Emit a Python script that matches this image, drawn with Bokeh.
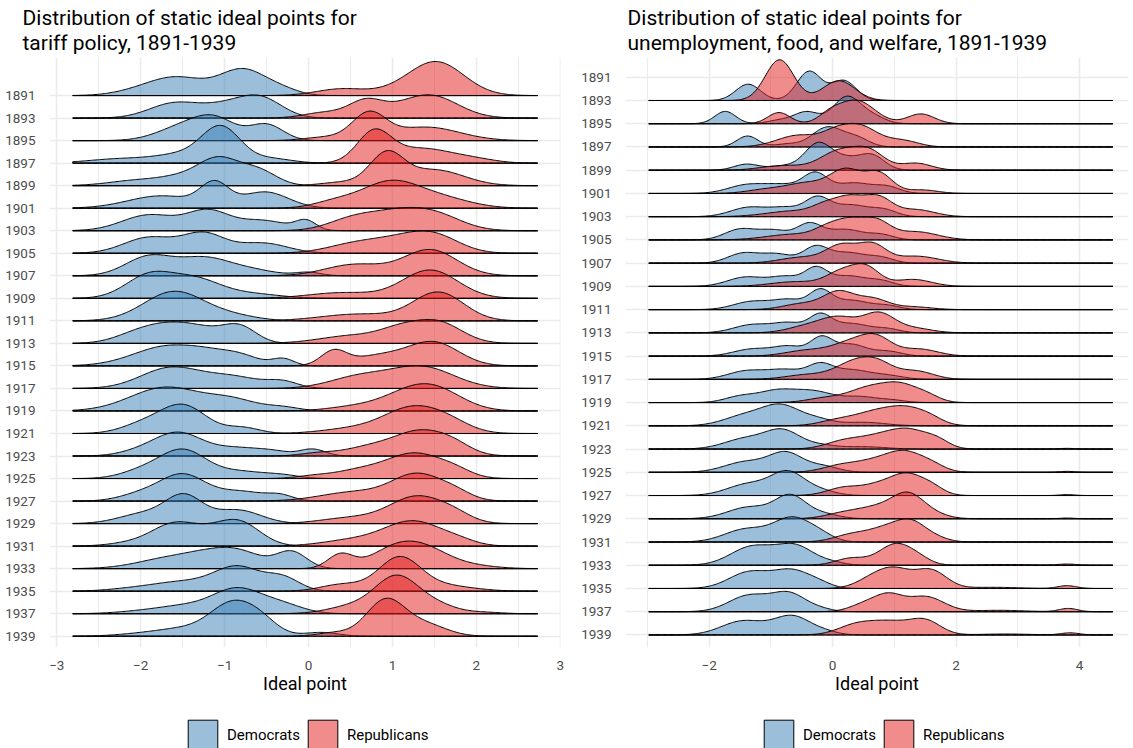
import numpy as np
from bokeh.plotting import figure
from bokeh.layouts import row, column
from bokeh.models import (FixedTicker, Legend, LegendItem, Title, Range1d,
                          ColumnDataSource)
from bokeh.embed import file_html
from bokeh.resources import INLINE

# ---------------------------------------------------------------- data
YEARS = list(range(1891, 1940, 2))          # 25 Congresses (y axis labels)
PARTIES = ["Democrats", "Republicans"]
PARTY_COLORS = ["#377EB8", "#E41A1C"]

TARIFF_TITLE = "Distribution of static ideal points for\ntariff policy, 1891-1939"
WELFARE_TITLE = "Distribution of static ideal points for\nunemployment, food, and welfare, 1891-1939"
X_LABEL = "Ideal point"

TARIFF_XTICKS = [-3, -2, -1, 0, 1, 2, 3]
WELFARE_XTICKS = [-2, 0, 2, 4]

# range of the ideal points in each panel (density support)
TARIFF_SUPPORT = (-2.81, 2.73)
WELFARE_SUPPORT = (-2.98, 4.54)

# ideal-point clusters: (centre, density height in rows, spread)
TARIFF_DEM = [
    [(-2.0, 0.2, 0.3), (-1.55, 0.75, 0.32), (-0.78, 1.15, 0.28), (-0.3, 0.2, 0.2)],
    [(-1.6, 0.65, 0.3), (-0.95, 0.55, 0.3), (-0.55, 0.75, 0.25)],
    [(-1.5, 0.6, 0.3), (-1.1, 0.85, 0.25), (-0.5, 0.7, 0.2)],
    [(-2.2, 0.2, 0.4), (-1.5, 0.35, 0.3), (-1.04, 1.55, 0.23), (-0.45, 0.2, 0.25)],
    [(-2.0, 0.25, 0.35), (-1.5, 0.3, 0.25), (-1.07, 1.15, 0.24), (-0.6, 0.65, 0.22)],
    [(-1.75, 0.55, 0.4), (-1.12, 1.0, 0.17), (-0.52, 0.72, 0.28)],
    [(-1.9, 0.7, 0.32), (-1.2, 0.85, 0.25), (-0.55, 0.45, 0.3), (-0.03, 0.4, 0.12)],
    [(-1.9, 0.7, 0.3), (-1.25, 0.85, 0.25), (-0.55, 0.45, 0.3)],
    [(-1.9, 0.85, 0.28), (-1.25, 0.75, 0.3), (-0.7, 0.25, 0.3), (0.0, 0.15, 0.15)],
    [(-1.9, 1.0, 0.28), (-1.35, 0.8, 0.3), (-0.7, 0.2, 0.35)],
    [(-1.6, 1.3, 0.36), (-0.9, 0.2, 0.3)],
    [(-2.1, 0.2, 0.25), (-1.65, 0.85, 0.35), (-1.2, 0.3, 0.25), (-0.82, 0.7, 0.2)],
    [(-1.65, 0.9, 0.42), (-1.25, 0.15, 0.2), (-0.85, 0.45, 0.25), (-0.3, 0.3, 0.13)],
    [(-1.65, 0.9, 0.35), (-0.9, 0.5, 0.35), (-0.3, 0.25, 0.18)],
    [(-1.7, 1.05, 0.42), (-0.9, 0.45, 0.3), (-0.3, 0.15, 0.2)],
    [(-2.0, 0.35, 0.25), (-1.5, 1.25, 0.28), (-0.78, 0.25, 0.2)],
    [(-2.0, 0.2, 0.25), (-1.55, 1.0, 0.28), (-0.85, 0.35, 0.3), (-0.4, 0.15, 0.2), (0.05, 0.3, 0.15)],
    [(-2.0, 0.3, 0.25), (-1.5, 1.25, 0.28), (-0.8, 0.3, 0.3), (-0.3, 0.12, 0.2)],
    [(-2.0, 0.3, 0.25), (-1.5, 1.15, 0.27), (-0.8, 0.42, 0.3), (-0.33, 0.2, 0.15)],
    [(-1.95, 0.45, 0.3), (-1.48, 1.15, 0.22), (-0.85, 0.6, 0.28)],
    [(-2.0, 0.2, 0.3), (-1.6, 0.85, 0.25), (-1.2, 0.45, 0.25), (-0.82, 1.0, 0.25)],
    [(-1.6, 0.5, 0.4), (-1.25, 0.2, 0.25), (-0.85, 0.75, 0.3), (-0.2, 0.72, 0.18)],
    [(-2.1, 0.1, 0.3), (-1.5, 0.4, 0.35), (-0.84, 1.05, 0.28), (-0.3, 0.55, 0.2)],
    [(-2.0, 0.1, 0.3), (-1.5, 0.3, 0.3), (-0.85, 1.1, 0.3), (-0.3, 0.35, 0.25)],
    [(-2.0, 0.1, 0.3), (-1.5, 0.3, 0.3), (-0.9, 1.45, 0.27), (-0.55, 0.45, 0.2), (0.15, 0.17, 0.2)],
]
TARIFF_REP = [
    [(0.4, 0.3, 0.3), (1.0, 0.1, 0.25), (1.52, 1.5, 0.33)],
    [(0.2, 0.25, 0.25), (0.68, 0.7, 0.2), (1.0, 0.15, 0.25), (1.45, 1.0, 0.33)],
    [(0.2, 0.15, 0.25), (0.72, 1.15, 0.2), (1.4, 0.6, 0.4)],
    [(0.78, 1.3, 0.2), (1.35, 0.65, 0.38), (2.0, 0.12, 0.25)],
    [(0.4, 0.15, 0.25), (0.93, 1.35, 0.2), (1.5, 0.7, 0.35)],
    [(0.3, 0.25, 0.25), (0.97, 1.15, 0.35), (1.6, 0.4, 0.35)],
    [(0.55, 0.55, 0.3), (1.05, 0.6, 0.3), (1.5, 0.7, 0.32)],
    [(0.6, 0.45, 0.35), (1.1, 0.4, 0.3), (1.5, 0.75, 0.3)],
    [(0.55, 0.5, 0.35), (1.45, 1.15, 0.32)],
    [(0.4, 0.25, 0.4), (1.45, 1.25, 0.33)],
    [(0.6, 0.3, 0.45), (1.55, 1.25, 0.3)],
    [(0.55, 0.35, 0.4), (1.1, 0.5, 0.25), (1.55, 0.9, 0.28)],
    [(0.3, 0.6, 0.15), (0.85, 0.45, 0.35), (1.5, 1.0, 0.3)],
    [(0.6, 0.5, 0.35), (1.35, 0.95, 0.38)],
    [(0.5, 0.15, 0.3), (1.3, 1.0, 0.38), (1.6, 0.3, 0.3)],
    [(0.5, 0.2, 0.35), (1.25, 1.15, 0.35), (1.7, 0.3, 0.25)],
    [(0.1, 0.12, 0.2), (0.7, 0.35, 0.3), (1.35, 1.1, 0.33), (1.75, 0.25, 0.2)],
    [(0.05, 0.1, 0.2), (0.6, 0.35, 0.3), (1.27, 1.1, 0.33), (1.75, 0.25, 0.2)],
    [(0.55, 0.4, 0.4), (1.3, 1.15, 0.3), (1.75, 0.3, 0.2)],
    [(0.5, 0.25, 0.35), (1.3, 1.2, 0.33), (1.75, 0.25, 0.2)],
    [(0.5, 0.25, 0.35), (1.25, 1.1, 0.35), (1.8, 0.15, 0.2)],
    [(0.38, 0.6, 0.15), (1.12, 1.1, 0.33), (1.5, 0.3, 0.25), (1.9, 0.15, 0.3)],
    [(0.4, 0.3, 0.25), (1.08, 1.45, 0.25), (1.6, 0.25, 0.35)],
    [(0.55, 0.35, 0.3), (1.05, 1.55, 0.25), (1.5, 0.4, 0.25), (2.1, 0.06, 0.2)],
    [(0.3, 0.15, 0.2), (0.92, 1.6, 0.23), (1.4, 0.5, 0.25)],
]
WELFARE_DEM = [
    None,
    [(-1.37, 0.7, 0.2), (-0.38, 1.25, 0.2), (0.18, 0.85, 0.2)],
    [(-1.74, 0.53, 0.17), (-0.85, 0.15, 0.2), (-0.42, 0.5, 0.2), (0.23, 1.15, 0.22), (0.65, 0.3, 0.2)],
    [(-1.38, 0.47, 0.17), (-0.75, 0.12, 0.2), (-0.08, 0.85, 0.25), (0.4, 0.35, 0.2)],
    [(-1.4, 0.25, 0.2), (-0.7, 0.2, 0.3), (-0.25, 0.9, 0.2), (0.15, 0.55, 0.3), (0.65, 0.55, 0.2)],
    [(-1.4, 0.35, 0.3), (-0.8, 0.35, 0.3), (-0.28, 0.8, 0.2), (0.35, 0.45, 0.3), (0.9, 0.25, 0.2)],
    [(-1.35, 0.4, 0.3), (-0.75, 0.35, 0.25), (-0.25, 0.75, 0.2), (0.3, 0.5, 0.3), (0.85, 0.25, 0.2)],
    [(-1.5, 0.45, 0.25), (-0.95, 0.4, 0.25), (-0.38, 0.65, 0.2), (0.2, 0.45, 0.3), (0.8, 0.2, 0.2)],
    [(-1.45, 0.42, 0.25), (-0.9, 0.38, 0.25), (-0.28, 0.65, 0.2), (0.25, 0.45, 0.3), (0.8, 0.2, 0.2)],
    [(-1.4, 0.4, 0.3), (-0.75, 0.4, 0.25), (-0.27, 0.7, 0.18), (0.25, 0.45, 0.3), (0.8, 0.2, 0.2)],
    [(-1.3, 0.35, 0.3), (-0.7, 0.4, 0.25), (-0.2, 0.75, 0.18), (0.3, 0.4, 0.3), (0.9, 0.15, 0.2)],
    [(-1.3, 0.35, 0.3), (-0.7, 0.4, 0.25), (-0.2, 0.7, 0.18), (0.3, 0.4, 0.3), (0.9, 0.15, 0.2)],
    [(-1.3, 0.3, 0.3), (-0.7, 0.4, 0.25), (-0.18, 0.75, 0.18), (0.3, 0.5, 0.25), (0.9, 0.2, 0.22)],
    [(-1.4, 0.35, 0.3), (-0.75, 0.4, 0.3), (-0.2, 0.55, 0.2), (0.3, 0.4, 0.3), (0.9, 0.15, 0.25)],
    [(-1.5, 0.25, 0.25), (-0.9, 0.5, 0.3), (-0.3, 0.45, 0.3), (0.45, 0.25, 0.3), (1.0, 0.08, 0.2)],
    [(-1.4, 0.45, 0.35), (-0.82, 0.8, 0.3), (-0.25, 0.25, 0.25), (0.5, 0.15, 0.35)],
    [(-1.4, 0.45, 0.35), (-0.8, 0.75, 0.28), (-0.2, 0.15, 0.25), (0.5, 0.1, 0.35)],
    [(-1.4, 0.45, 0.35), (-0.75, 0.8, 0.27), (-0.15, 0.25, 0.25)],
    [(-1.35, 0.5, 0.35), (-0.72, 0.95, 0.27), (-0.2, 0.2, 0.25)],
    [(-1.35, 0.5, 0.35), (-0.68, 0.95, 0.25), (-0.15, 0.2, 0.25)],
    [(-1.4, 0.55, 0.35), (-0.65, 1.0, 0.3), (-0.2, 0.25, 0.22)],
    [(-1.3, 0.8, 0.35), (-0.6, 0.8, 0.3), (0.0, 0.1, 0.2)],
    [(-1.35, 0.7, 0.33), (-0.65, 0.75, 0.3), (-0.2, 0.15, 0.2)],
    [(-1.35, 0.7, 0.33), (-0.7, 0.75, 0.27), (-0.2, 0.1, 0.2)],
    [(-1.45, 0.6, 0.35), (-0.65, 0.8, 0.3), (-0.1, 0.1, 0.2)],
]
WELFARE_REP = [
    None,
    [(-0.86, 1.75, 0.23), (0.1, 0.85, 0.26)],
    [(-0.87, 0.48, 0.18), (-0.05, 0.3, 0.18), (0.38, 1.0, 0.3), (1.43, 0.42, 0.22)],
    [(-0.55, 0.5, 0.35), (0.0, 0.25, 0.2), (0.4, 0.95, 0.32), (1.15, 0.25, 0.25)],
    [(-0.8, 0.2, 0.35), (0.1, 0.8, 0.3), (0.6, 0.75, 0.25), (1.35, 0.3, 0.25)],
    [(-1.1, 0.15, 0.3), (-0.4, 0.45, 0.35), (0.22, 0.95, 0.25), (0.75, 0.85, 0.22), (1.45, 0.15, 0.25)],
    [(-0.6, 0.25, 0.45), (-0.15, 0.3, 0.2), (0.27, 0.8, 0.25), (0.75, 0.75, 0.22), (1.35, 0.3, 0.3)],
    [(-0.6, 0.25, 0.45), (-0.12, 0.3, 0.2), (0.27, 0.8, 0.25), (0.72, 0.7, 0.22), (1.35, 0.35, 0.35)],
    [(-0.5, 0.25, 0.35), (0.15, 0.75, 0.25), (0.65, 0.75, 0.22), (1.35, 0.3, 0.35)],
    [(-0.6, 0.2, 0.4), (0.15, 0.6, 0.25), (0.55, 0.75, 0.22), (1.3, 0.3, 0.3)],
    [(-0.5, 0.25, 0.3), (0.1, 0.75, 0.25), (0.65, 0.45, 0.25), (1.3, 0.12, 0.3)],
    [(-0.45, 0.25, 0.3), (0.1, 0.65, 0.3), (0.75, 0.8, 0.25), (1.3, 0.2, 0.3)],
    [(-0.4, 0.25, 0.35), (0.3, 0.55, 0.3), (0.72, 0.7, 0.25), (1.4, 0.3, 0.3)],
    [(-0.4, 0.2, 0.35), (0.35, 0.7, 0.3), (0.75, 0.55, 0.25), (1.35, 0.35, 0.28)],
    [(-0.1, 0.2, 0.3), (0.55, 0.55, 0.3), (1.1, 0.75, 0.3), (1.55, 0.2, 0.2)],
    [(0.1, 0.25, 0.3), (0.65, 0.45, 0.3), (1.2, 0.75, 0.33), (1.6, 0.15, 0.2)],
    [(0.2, 0.35, 0.3), (0.75, 0.45, 0.3), (1.25, 0.75, 0.3), (1.7, 0.3, 0.2), (3.8, 0.03, 0.12)],
    [(0.15, 0.3, 0.3), (0.72, 0.45, 0.3), (1.18, 0.75, 0.27), (1.6, 0.3, 0.22), (3.8, 0.04, 0.12)],
    [(0.2, 0.35, 0.28), (0.75, 0.4, 0.25), (1.2, 0.85, 0.25), (1.6, 0.35, 0.2), (3.8, 0.04, 0.12)],
    [(0.2, 0.25, 0.3), (0.75, 0.45, 0.3), (1.22, 0.95, 0.25), (1.6, 0.2, 0.25), (3.8, 0.03, 0.12)],
    [(0.35, 0.35, 0.3), (0.85, 0.45, 0.25), (1.27, 0.85, 0.25), (1.7, 0.12, 0.2)],
    [(0.3, 0.3, 0.25), (1.02, 0.9, 0.27), (1.4, 0.2, 0.2), (2.8, 0.03, 0.4), (3.8, 0.05, 0.15)],
    [(0.6, 0.3, 0.25), (1.0, 0.8, 0.28), (1.6, 0.75, 0.25), (2.6, 0.05, 0.4), (3.8, 0.12, 0.15)],
    [(0.55, 0.35, 0.25), (0.92, 0.6, 0.22), (1.5, 0.65, 0.3), (2.7, 0.06, 0.4), (3.82, 0.14, 0.15)],
    [(0.4, 0.45, 0.3), (0.95, 0.5, 0.3), (1.5, 0.6, 0.25), (2.8, 0.04, 0.4), (3.85, 0.09, 0.15)],
]

FONT = "Roboto"
GRID = "#EBEBEB"
MAIN_H = 698
KEY_H = 748 - MAIN_H


def kde(grid, clusters):
    y = np.zeros_like(grid)
    for mu, h, sd in clusters:
        y += h * np.exp(-0.5 * ((grid - mu) / sd) ** 2)
    return y


def panel(title, dem, rep, support, xticks, minor, x_range, y_range, width,
          border_left, title_offset):
    n = len(YEARS)
    p = figure(width=width, height=MAIN_H, output_backend="svg", toolbar_location=None,
               x_range=Range1d(*x_range), y_range=Range1d(*y_range),
               min_border_left=border_left, min_border_right=5,
               min_border_top=57, min_border_bottom=MAIN_H - 647)
    p.outline_line_color = None
    p.background_fill_color = "white"
    p.border_fill_color = "white"

    grid = np.linspace(support[0], support[1], 400)
    xs, ys, fc = [], [], []
    for i, year in enumerate(YEARS):
        base = n - 1 - i
        for comps, col in zip((dem[i], rep[i]), PARTY_COLORS):
            if comps is None:
                continue
            d = kde(grid, comps)
            xs.append(np.concatenate([grid, grid[::-1]]))
            ys.append(np.concatenate([base + d, np.full(grid.size, float(base))]))
            fc.append(col)
    src = ColumnDataSource(dict(xs=xs, ys=ys, fc=fc))
    p.patches("xs", "ys", source=src, fill_color="fc", fill_alpha=0.5,
              line_color="black", line_width=1, line_join="round")

    # axes
    p.xaxis.ticker = FixedTicker(ticks=xticks, minor_ticks=minor)
    p.yaxis.ticker = FixedTicker(ticks=list(range(n)))
    p.yaxis.major_label_overrides = {n - 1 - i: str(y) for i, y in enumerate(YEARS)}
    for ax in (p.xaxis, p.yaxis):
        ax.axis_line_color = None
        ax.major_tick_line_color = None
        ax.minor_tick_line_color = None
        ax.major_label_text_font = FONT
        ax.major_label_text_font_size = "13.5px"
        ax.major_label_text_color = "#4D4D4D"
        ax.major_label_standoff = 8
    p.xaxis.major_label_standoff = 7
    p.xaxis.axis_label = X_LABEL
    p.xaxis.axis_label_text_font = FONT
    p.xaxis.axis_label_text_font_size = "18px"
    p.xaxis.axis_label_text_font_style = "normal"
    p.xaxis.axis_label_text_color = "black"
    p.xaxis.axis_label_standoff = 0

    p.xgrid.grid_line_color = GRID
    p.xgrid.grid_line_width = 1.6
    p.xgrid.minor_grid_line_color = GRID
    p.xgrid.minor_grid_line_width = 1.1
    p.ygrid.grid_line_color = GRID
    p.ygrid.grid_line_width = 1.6

    t = Title(text=title, align="left", offset=title_offset, text_font=FONT,
              text_font_size="21px", text_font_style="normal", text_color="black",
              text_line_height=1.05, standoff=4)
    p.add_layout(t, "above")
    return p


def key(width, box_left):
    # strip under each panel holding the fill legend (its frame is aligned with
    # the panel frame above, so box_left is measured from that frame)
    k = figure(width=width, height=KEY_H, output_backend="svg", toolbar_location=None,
               x_range=Range1d(0, 1), y_range=Range1d(0, 1),
               min_border_left=0, min_border_right=0, min_border_top=0,
               min_border_bottom=0, x_axis_type=None, y_axis_type=None)
    k.outline_line_color = None
    k.xgrid.visible = False
    k.ygrid.visible = False
    items = []
    for name, col in zip(PARTIES, PARTY_COLORS):
        r = k.quad(left=[5], right=[6], top=[6], bottom=[5], fill_color=col,
                   fill_alpha=0.5, line_color="black", line_width=1)
        items.append(LegendItem(label=name, renderers=[r], index=0))
    inset = 4             # Bokeh draws area keys inset by 10 % of the glyph box
    leg = Legend(items=items, orientation="horizontal",
                 location=(box_left - inset, -inset - 1),
                 glyph_width=37, glyph_height=37, label_standoff=6,
                 spacing=4, padding=0, margin=0, border_line_color=None,
                 background_fill_alpha=0, label_text_font=FONT,
                 label_text_font_size="15px", label_text_color="black",
                 label_height=30)
    k.add_layout(leg, "center")
    return k


p1 = panel(TARIFF_TITLE, TARIFF_DEM, TARIFF_REP, TARIFF_SUPPORT,
           TARIFF_XTICKS, [-2.5, -1.5, -0.5, 0.5, 1.5, 2.5],
           (-3.087, 3.003), (-0.50, 25.69), 565, 49, -27)
p2 = panel(WELFARE_TITLE, WELFARE_DEM, WELFARE_REP, WELFARE_SUPPORT,
           WELFARE_XTICKS, [-3, -1, 1, 3],
           (-3.357, 4.795), (-0.54, 24.85), 568, 60, 2)
k1 = key(565, 188 - 49)
k2 = key(568, 764 - 565 - 60)

layout = row(column(p1, k1, spacing=0), column(p2, k2, spacing=0), spacing=0)
open("out.html", "w").write(file_html(layout, INLINE))
